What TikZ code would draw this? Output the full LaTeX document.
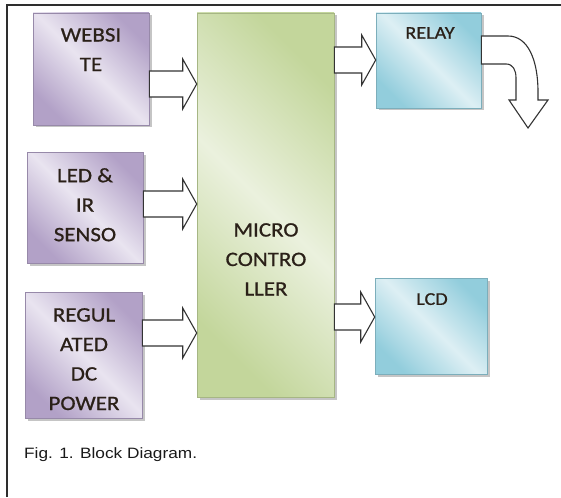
\documentclass[tikz,border=0pt]{standalone}
\usepackage{fontspec}
\setmainfont{Carlito}[FakeStretch=1.12, FakeBold=0.8]
\newfontfamily\capfont{Liberation Sans}[FakeStretch=1.15]
\usetikzlibrary{calc, shadows}
\definecolor{pdark}{HTML}{B2A1C7}
\definecolor{plight}{HTML}{E9E4F0}
\definecolor{gdark}{HTML}{C3D69B}
\definecolor{glight}{HTML}{EBF1DE}
\definecolor{bdark}{HTML}{92CDDC}
\definecolor{blight}{HTML}{DDEFF4}
\definecolor{framecol}{HTML}{2E2E2E}
\definecolor{arrowcol}{HTML}{333333}
\definecolor{textcol}{HTML}{2A2018}

% block arrow: from the east side of #1 to the west side of #2, at height #3
\newcommand\blkarrow[3]{%
  \draw[blk] let \p1=(#1.east |- 0,#3), \p2=(#2.west |- 0,#3) in
    (\x1,\y1+13pt) -- (\x2-14pt,\y1+13pt) -- (\x2-14pt,\y1+25pt) -- (\x2,\y1)
    -- (\x2-14pt,\y1-25pt) -- (\x2-14pt,\y1-13pt) -- (\x1,\y1-13pt) -- cycle;}

\begin{document}
\begin{tikzpicture}[
    x=1pt, y=-1pt,
    box/.style={draw, line width=0.6pt, inner sep=0pt,
        drop shadow={shadow xshift=2.5pt, shadow yshift=-2.5pt, fill=black!45, opacity=0.5}},
    pbox/.style={box, draw=pdark!85!black, left color=pdark, right color=pdark, middle color=plight, shading angle=135},
    gbox/.style={box, draw=gdark!85!black, left color=gdark, right color=gdark, middle color=glight, shading angle=135},
    bbox/.style={box, draw=bdark!85!black, left color=bdark, right color=bdark, middle color=blight, shading angle=135},
    txt/.style={font=\fontsize{20.5}{29.5}\selectfont, align=center, inner sep=0pt, text=textcol, anchor=north},
    smalltxt/.style={txt, font=\fontsize{18}{22}\selectfont},
    captxt/.style={font=\capfont\fontsize{15}{18}\selectfont, inner sep=0pt, text=black!90, anchor=north west},
    blk/.style={draw=arrowcol, fill=white, line width=1.1pt, line join=miter},
]
\useasboundingbox[fill=white] (0,0) rectangle (561,497);
\draw[framecol, line width=2pt] (6.5,497) -- (6.5,5.5) -- (561,5.5);

% ================================================================ inputs
\node[pbox, minimum width=116pt, minimum height=112pt] (web) at (91,69) {};
\node[txt] (webtxt) at (91,28) {WEBSI\\TE};

\node[pbox, minimum width=116pt, minimum height=111pt] (led) at (85,207.5) {};
\node[txt] (ledtxt) at (85,168) {LED \&\\IR\\SENSO};

\node[pbox, minimum width=117pt, minimum height=126pt] (reg) at (83.5,355) {};
\node[txt] (regtxt) at (84,308) {REGUL\\ATED\\DC\\POWER};

% ================================================================ controller
\node[gbox, minimum width=137pt, minimum height=384pt] (micro) at (265.5,205) {};
\node[txt] (microtxt) at (266,223) {MICRO\\CONTRO\\LLER};

% ================================================================ outputs
\node[bbox, minimum width=105pt, minimum height=95pt] (relay) at (428.5,60.5) {};
\node[smalltxt] (relaytxt) at (430,27) {RELAY};

\node[bbox, minimum width=112pt, minimum height=96pt] (lcd) at (431,326) {};
\node[smalltxt] (lcdtxt) at (432,293) {LCD};

% ================================================================ arrows
\blkarrow{web}{micro}{84}
\blkarrow{led}{micro}{204}
\blkarrow{reg}{micro}{333}
\blkarrow{micro}{relay}{60}
\blkarrow{micro}{lcd}{317}

% the bent one out of the relay
\draw[blk] (relay.east |- 0,36) -- (508,36) .. controls (528,36) and (538,60) .. (538,92)
    -- (538,100) -- (548,100) -- (528,128) -- (509,100) -- (516,100) -- (516,78)
    .. controls (516,70) and (513,64) .. (506,64) -- (relay.east |- 0,64) -- cycle;

\node[captxt] (cap) at (24,447) {Fig. 1. Block Diagram.};
\end{tikzpicture}
\end{document}
